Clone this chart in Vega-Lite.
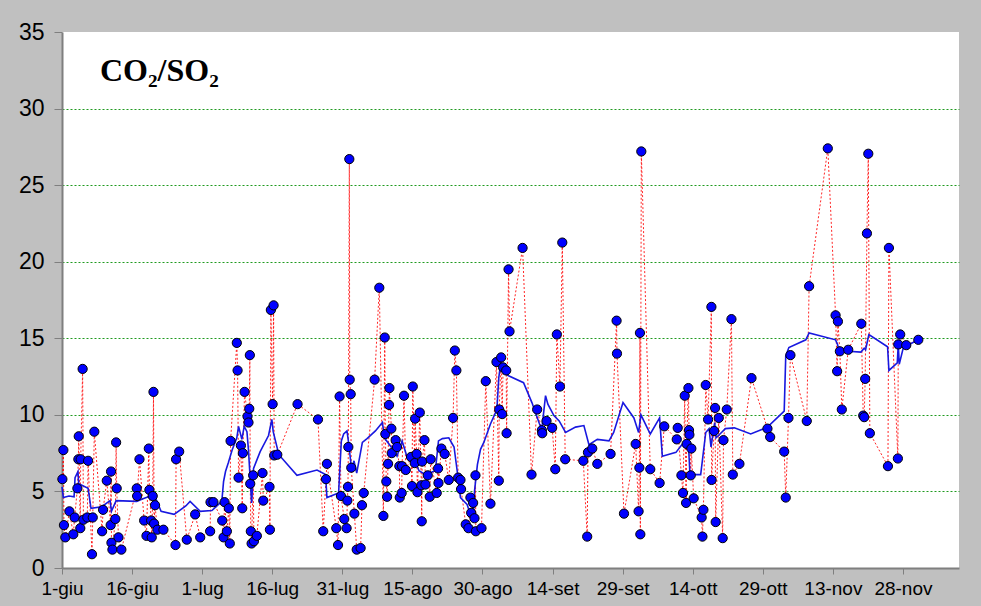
{
  "$schema": "https://vega.github.io/schema/vega-lite/v6.json",
  "width": 897,
  "height": 536,
  "autosize": {"type": "none"},
  "padding": {"left": 62, "top": 32, "right": 22, "bottom": 38},
  "background": "#c0c0c0",
  "title": {"text": "CO₂/SO₂", "anchor": "start", "frame": "group", "orient": "top", "offset": -92, "dx": 38, "baseline": "alphabetic", "font": "Liberation Serif", "fontWeight": "bold", "fontSize": 32, "color": "#000000"},
  "config": {
    "view": {"fill": "#ffffff", "stroke": null},
    "axis": {"labelFont": "Liberation Sans", "labelColor": "#000000", "domainColor": "#7f7f7f", "domainWidth": 2, "tickColor": "#7f7f7f", "tickWidth": 1, "title": null}
  },
  "datasets": {
    "campioni": [
      {"date": "2006-06-01T02:00Z", "value": 5.8},
      {"date": "2006-06-01T07:00Z", "value": 7.7},
      {"date": "2006-06-01T10:00Z", "value": 2.8},
      {"date": "2006-06-01T17:00Z", "value": 2.0},
      {"date": "2006-06-02T14:00Z", "value": 3.7},
      {"date": "2006-06-03T10:00Z", "value": 2.2},
      {"date": "2006-06-03T17:00Z", "value": 3.3},
      {"date": "2006-06-04T07:00Z", "value": 5.2},
      {"date": "2006-06-04T12:00Z", "value": 7.1},
      {"date": "2006-06-04T14:00Z", "value": 8.6},
      {"date": "2006-06-04T22:00Z", "value": 2.6},
      {"date": "2006-06-05T00:00Z", "value": 7.1},
      {"date": "2006-06-05T10:00Z", "value": 13.0},
      {"date": "2006-06-05T14:00Z", "value": 3.15},
      {"date": "2006-06-06T10:00Z", "value": 3.3},
      {"date": "2006-06-06T14:00Z", "value": 7.0},
      {"date": "2006-06-07T10:00Z", "value": 0.9},
      {"date": "2006-06-07T14:00Z", "value": 3.3},
      {"date": "2006-06-07T22:00Z", "value": 8.9},
      {"date": "2006-06-09T14:00Z", "value": 2.4},
      {"date": "2006-06-09T19:00Z", "value": 3.8},
      {"date": "2006-06-10T14:00Z", "value": 5.7},
      {"date": "2006-06-11T10:00Z", "value": 2.8},
      {"date": "2006-06-11T12:00Z", "value": 6.3},
      {"date": "2006-06-11T14:00Z", "value": 1.65},
      {"date": "2006-06-11T19:00Z", "value": 1.2},
      {"date": "2006-06-12T10:00Z", "value": 3.2},
      {"date": "2006-06-12T14:00Z", "value": 8.2},
      {"date": "2006-06-12T17:00Z", "value": 5.2},
      {"date": "2006-06-13T02:00Z", "value": 2.0},
      {"date": "2006-06-13T17:00Z", "value": 1.2},
      {"date": "2006-06-17T00:00Z", "value": 5.2},
      {"date": "2006-06-17T02:00Z", "value": 4.7},
      {"date": "2006-06-17T14:00Z", "value": 7.1},
      {"date": "2006-06-18T14:00Z", "value": 3.1},
      {"date": "2006-06-19T02:00Z", "value": 2.1},
      {"date": "2006-06-19T14:00Z", "value": 7.8},
      {"date": "2006-06-19T17:00Z", "value": 5.1},
      {"date": "2006-06-20T02:00Z", "value": 3.1},
      {"date": "2006-06-20T05:00Z", "value": 2.0},
      {"date": "2006-06-20T10:00Z", "value": 4.7},
      {"date": "2006-06-20T14:00Z", "value": 11.5},
      {"date": "2006-06-20T17:00Z", "value": 2.9},
      {"date": "2006-06-20T22:00Z", "value": 4.1},
      {"date": "2006-06-21T10:00Z", "value": 2.5},
      {"date": "2006-06-22T17:00Z", "value": 2.5},
      {"date": "2006-06-25T07:00Z", "value": 1.5},
      {"date": "2006-06-25T10:00Z", "value": 7.1},
      {"date": "2006-06-26T02:00Z", "value": 7.6},
      {"date": "2006-06-27T17:00Z", "value": 1.85},
      {"date": "2006-06-29T12:00Z", "value": 3.5},
      {"date": "2006-06-30T14:00Z", "value": 2.0},
      {"date": "2006-07-02T17:00Z", "value": 2.4},
      {"date": "2006-07-02T19:00Z", "value": 4.3},
      {"date": "2006-07-03T10:00Z", "value": 4.3},
      {"date": "2006-07-05T07:00Z", "value": 3.1},
      {"date": "2006-07-05T14:00Z", "value": 2.0},
      {"date": "2006-07-05T19:00Z", "value": 4.3},
      {"date": "2006-07-06T07:00Z", "value": 2.4},
      {"date": "2006-07-06T17:00Z", "value": 3.9},
      {"date": "2006-07-06T22:00Z", "value": 1.6},
      {"date": "2006-07-07T02:00Z", "value": 8.3},
      {"date": "2006-07-08T10:00Z", "value": 14.7},
      {"date": "2006-07-08T14:00Z", "value": 12.9},
      {"date": "2006-07-08T19:00Z", "value": 5.9},
      {"date": "2006-07-09T07:00Z", "value": 8.0},
      {"date": "2006-07-09T14:00Z", "value": 3.9},
      {"date": "2006-07-09T17:00Z", "value": 7.5},
      {"date": "2006-07-10T02:00Z", "value": 11.5},
      {"date": "2006-07-10T17:00Z", "value": 9.9},
      {"date": "2006-07-10T22:00Z", "value": 9.5},
      {"date": "2006-07-11T02:00Z", "value": 10.4},
      {"date": "2006-07-11T05:00Z", "value": 13.9},
      {"date": "2006-07-11T07:00Z", "value": 5.5},
      {"date": "2006-07-11T10:00Z", "value": 2.4},
      {"date": "2006-07-11T14:00Z", "value": 1.6},
      {"date": "2006-07-11T22:00Z", "value": 6.05},
      {"date": "2006-07-12T02:00Z", "value": 1.75},
      {"date": "2006-07-12T17:00Z", "value": 2.1},
      {"date": "2006-07-13T22:00Z", "value": 6.2},
      {"date": "2006-07-14T02:00Z", "value": 4.4},
      {"date": "2006-07-15T10:00Z", "value": 5.3},
      {"date": "2006-07-15T12:00Z", "value": 2.5},
      {"date": "2006-07-15T17:00Z", "value": 16.85},
      {"date": "2006-07-16T02:00Z", "value": 10.7},
      {"date": "2006-07-16T07:00Z", "value": 17.15},
      {"date": "2006-07-16T10:00Z", "value": 7.35},
      {"date": "2006-07-17T02:00Z", "value": 7.4},
      {"date": "2006-07-21T10:00Z", "value": 10.7},
      {"date": "2006-07-25T19:00Z", "value": 9.7},
      {"date": "2006-07-26T22:00Z", "value": 2.4},
      {"date": "2006-07-27T12:00Z", "value": 5.8},
      {"date": "2006-07-27T17:00Z", "value": 6.8},
      {"date": "2006-07-29T17:00Z", "value": 2.6},
      {"date": "2006-07-30T02:00Z", "value": 1.5},
      {"date": "2006-07-30T10:00Z", "value": 11.2},
      {"date": "2006-07-30T17:00Z", "value": 4.7},
      {"date": "2006-07-31T10:00Z", "value": 3.2},
      {"date": "2006-07-31T22:00Z", "value": 2.6},
      {"date": "2006-08-01T02:00Z", "value": 4.4},
      {"date": "2006-08-01T05:00Z", "value": 5.3},
      {"date": "2006-08-01T07:00Z", "value": 7.9},
      {"date": "2006-08-01T12:00Z", "value": 26.7},
      {"date": "2006-08-01T14:00Z", "value": 12.3},
      {"date": "2006-08-01T19:00Z", "value": 11.35},
      {"date": "2006-08-01T22:00Z", "value": 6.55},
      {"date": "2006-08-02T14:00Z", "value": 3.55},
      {"date": "2006-08-03T02:00Z", "value": 1.2},
      {"date": "2006-08-03T22:00Z", "value": 1.3},
      {"date": "2006-08-04T05:00Z", "value": 4.1},
      {"date": "2006-08-04T14:00Z", "value": 4.9},
      {"date": "2006-08-06T22:00Z", "value": 12.3},
      {"date": "2006-08-07T22:00Z", "value": 18.3},
      {"date": "2006-08-08T19:00Z", "value": 3.4},
      {"date": "2006-08-09T02:00Z", "value": 15.05},
      {"date": "2006-08-09T05:00Z", "value": 8.75},
      {"date": "2006-08-09T10:00Z", "value": 5.65},
      {"date": "2006-08-09T14:00Z", "value": 4.65},
      {"date": "2006-08-09T19:00Z", "value": 6.8},
      {"date": "2006-08-10T00:00Z", "value": 10.65},
      {"date": "2006-08-10T02:00Z", "value": 11.75},
      {"date": "2006-08-10T12:00Z", "value": 9.1},
      {"date": "2006-08-10T14:00Z", "value": 7.5},
      {"date": "2006-08-11T10:00Z", "value": 8.35},
      {"date": "2006-08-11T17:00Z", "value": 7.9},
      {"date": "2006-08-12T05:00Z", "value": 6.65},
      {"date": "2006-08-12T07:00Z", "value": 4.6},
      {"date": "2006-08-12T17:00Z", "value": 4.9},
      {"date": "2006-08-12T19:00Z", "value": 6.65},
      {"date": "2006-08-13T05:00Z", "value": 11.25},
      {"date": "2006-08-13T14:00Z", "value": 6.4},
      {"date": "2006-08-14T17:00Z", "value": 7.25},
      {"date": "2006-08-14T22:00Z", "value": 5.35},
      {"date": "2006-08-15T02:00Z", "value": 11.85},
      {"date": "2006-08-15T12:00Z", "value": 6.85},
      {"date": "2006-08-15T14:00Z", "value": 9.75},
      {"date": "2006-08-15T22:00Z", "value": 7.45},
      {"date": "2006-08-16T02:00Z", "value": 4.95},
      {"date": "2006-08-16T14:00Z", "value": 10.15},
      {"date": "2006-08-16T22:00Z", "value": 5.4},
      {"date": "2006-08-17T00:00Z", "value": 3.05},
      {"date": "2006-08-17T02:00Z", "value": 6.95},
      {"date": "2006-08-17T14:00Z", "value": 8.35},
      {"date": "2006-08-17T19:00Z", "value": 5.45},
      {"date": "2006-08-18T07:00Z", "value": 6.05},
      {"date": "2006-08-18T17:00Z", "value": 4.65},
      {"date": "2006-08-18T22:00Z", "value": 7.1},
      {"date": "2006-08-20T05:00Z", "value": 4.9},
      {"date": "2006-08-20T12:00Z", "value": 6.5},
      {"date": "2006-08-20T14:00Z", "value": 5.55},
      {"date": "2006-08-21T05:00Z", "value": 7.8},
      {"date": "2006-08-21T22:00Z", "value": 7.45},
      {"date": "2006-08-22T19:00Z", "value": 5.75},
      {"date": "2006-08-23T17:00Z", "value": 9.8},
      {"date": "2006-08-24T02:00Z", "value": 14.2},
      {"date": "2006-08-24T10:00Z", "value": 12.9},
      {"date": "2006-08-24T19:00Z", "value": 5.9},
      {"date": "2006-08-25T07:00Z", "value": 5.75},
      {"date": "2006-08-25T10:00Z", "value": 5.15},
      {"date": "2006-08-26T10:00Z", "value": 2.85},
      {"date": "2006-08-27T00:00Z", "value": 2.6},
      {"date": "2006-08-27T10:00Z", "value": 4.6},
      {"date": "2006-08-27T14:00Z", "value": 3.6},
      {"date": "2006-08-28T00:00Z", "value": 4.25},
      {"date": "2006-08-28T07:00Z", "value": 3.25},
      {"date": "2006-08-28T12:00Z", "value": 6.05},
      {"date": "2006-08-28T14:00Z", "value": 2.4},
      {"date": "2006-08-29T19:00Z", "value": 2.6},
      {"date": "2006-08-30T17:00Z", "value": 12.2},
      {"date": "2006-08-31T17:00Z", "value": 4.2},
      {"date": "2006-09-02T00:00Z", "value": 13.45},
      {"date": "2006-09-02T12:00Z", "value": 5.7},
      {"date": "2006-09-02T14:00Z", "value": 10.35},
      {"date": "2006-09-03T00:00Z", "value": 13.75},
      {"date": "2006-09-03T05:00Z", "value": 10.05},
      {"date": "2006-09-03T10:00Z", "value": 13.1},
      {"date": "2006-09-04T02:00Z", "value": 12.9},
      {"date": "2006-09-04T04:00Z", "value": 8.8},
      {"date": "2006-09-04T14:00Z", "value": 19.5},
      {"date": "2006-09-04T19:00Z", "value": 15.45},
      {"date": "2006-09-07T14:00Z", "value": 20.9},
      {"date": "2006-09-09T12:00Z", "value": 6.1},
      {"date": "2006-09-10T17:00Z", "value": 10.35},
      {"date": "2006-09-11T17:00Z", "value": 9.0},
      {"date": "2006-09-11T19:00Z", "value": 8.8},
      {"date": "2006-09-12T17:00Z", "value": 9.6},
      {"date": "2006-09-13T22:00Z", "value": 9.15},
      {"date": "2006-09-14T14:00Z", "value": 6.45},
      {"date": "2006-09-14T22:00Z", "value": 15.25},
      {"date": "2006-09-15T14:00Z", "value": 11.85},
      {"date": "2006-09-16T02:00Z", "value": 21.25},
      {"date": "2006-09-16T17:00Z", "value": 7.1},
      {"date": "2006-09-20T14:00Z", "value": 7.0},
      {"date": "2006-09-21T10:00Z", "value": 2.05},
      {"date": "2006-09-21T14:00Z", "value": 7.55},
      {"date": "2006-09-22T12:00Z", "value": 7.8},
      {"date": "2006-09-23T14:00Z", "value": 6.8},
      {"date": "2006-09-26T10:00Z", "value": 7.45},
      {"date": "2006-09-27T17:00Z", "value": 16.15},
      {"date": "2006-09-27T19:00Z", "value": 14.0},
      {"date": "2006-09-29T07:00Z", "value": 3.55},
      {"date": "2006-10-01T19:00Z", "value": 8.1},
      {"date": "2006-10-02T10:00Z", "value": 3.7},
      {"date": "2006-10-02T14:00Z", "value": 6.55},
      {"date": "2006-10-02T17:00Z", "value": 15.35},
      {"date": "2006-10-02T19:00Z", "value": 2.2},
      {"date": "2006-10-03T00:00Z", "value": 27.2},
      {"date": "2006-10-04T22:00Z", "value": 6.45},
      {"date": "2006-10-06T22:00Z", "value": 5.55},
      {"date": "2006-10-07T22:00Z", "value": 9.25},
      {"date": "2006-10-10T14:00Z", "value": 8.4},
      {"date": "2006-10-10T19:00Z", "value": 9.15},
      {"date": "2006-10-11T14:00Z", "value": 6.05},
      {"date": "2006-10-11T22:00Z", "value": 4.9},
      {"date": "2006-10-12T07:00Z", "value": 11.25},
      {"date": "2006-10-12T14:00Z", "value": 4.25},
      {"date": "2006-10-12T17:00Z", "value": 8.1},
      {"date": "2006-10-13T02:00Z", "value": 11.75},
      {"date": "2006-10-13T05:00Z", "value": 9.0},
      {"date": "2006-10-13T07:00Z", "value": 8.7},
      {"date": "2006-10-13T14:00Z", "value": 6.05},
      {"date": "2006-10-13T17:00Z", "value": 7.8},
      {"date": "2006-10-14T05:00Z", "value": 4.55},
      {"date": "2006-10-15T22:00Z", "value": 3.3},
      {"date": "2006-10-16T02:00Z", "value": 2.05},
      {"date": "2006-10-16T07:00Z", "value": 3.8},
      {"date": "2006-10-16T19:00Z", "value": 11.95},
      {"date": "2006-10-17T07:00Z", "value": 9.7},
      {"date": "2006-10-18T00:00Z", "value": 17.05},
      {"date": "2006-10-18T01:00Z", "value": 5.75},
      {"date": "2006-10-18T14:00Z", "value": 8.95},
      {"date": "2006-10-18T19:00Z", "value": 10.45},
      {"date": "2006-10-18T22:00Z", "value": 3.0},
      {"date": "2006-10-19T14:00Z", "value": 9.8},
      {"date": "2006-10-20T10:00Z", "value": 1.95},
      {"date": "2006-10-20T14:00Z", "value": 8.35},
      {"date": "2006-10-21T07:00Z", "value": 10.35},
      {"date": "2006-10-22T07:00Z", "value": 16.25},
      {"date": "2006-10-22T14:00Z", "value": 6.1},
      {"date": "2006-10-24T00:00Z", "value": 6.8},
      {"date": "2006-10-26T14:00Z", "value": 12.4},
      {"date": "2006-10-30T00:00Z", "value": 9.1},
      {"date": "2006-10-30T14:00Z", "value": 8.55},
      {"date": "2006-11-02T14:00Z", "value": 7.6},
      {"date": "2006-11-02T22:00Z", "value": 4.6},
      {"date": "2006-11-03T12:00Z", "value": 9.8},
      {"date": "2006-11-03T22:00Z", "value": 13.9},
      {"date": "2006-11-07T10:00Z", "value": 9.6},
      {"date": "2006-11-07T22:00Z", "value": 18.4},
      {"date": "2006-11-11T22:00Z", "value": 27.4},
      {"date": "2006-11-13T14:00Z", "value": 16.5},
      {"date": "2006-11-13T22:00Z", "value": 12.85},
      {"date": "2006-11-14T02:00Z", "value": 16.1},
      {"date": "2006-11-14T12:00Z", "value": 14.15},
      {"date": "2006-11-14T22:00Z", "value": 10.35},
      {"date": "2006-11-16T07:00Z", "value": 14.25},
      {"date": "2006-11-19T02:00Z", "value": 15.95},
      {"date": "2006-11-19T12:00Z", "value": 9.95},
      {"date": "2006-11-19T17:00Z", "value": 9.85},
      {"date": "2006-11-19T22:00Z", "value": 12.35},
      {"date": "2006-11-20T07:00Z", "value": 21.85},
      {"date": "2006-11-20T14:00Z", "value": 27.05},
      {"date": "2006-11-20T22:00Z", "value": 8.8},
      {"date": "2006-11-24T19:00Z", "value": 6.65},
      {"date": "2006-11-25T00:00Z", "value": 20.9},
      {"date": "2006-11-26T22:00Z", "value": 7.15},
      {"date": "2006-11-27T00:00Z", "value": 14.6},
      {"date": "2006-11-27T10:00Z", "value": 15.25},
      {"date": "2006-11-28T17:00Z", "value": 14.55},
      {"date": "2006-12-01T07:00Z", "value": 14.9}
    ],
    "media": [
      {"date": "2006-06-01T00:00Z", "value": 5.3},
      {"date": "2006-06-01T07:00Z", "value": 4.6},
      {"date": "2006-06-02T12:00Z", "value": 4.7},
      {"date": "2006-06-03T14:00Z", "value": 4.65},
      {"date": "2006-06-03T19:00Z", "value": 5.9},
      {"date": "2006-06-04T10:00Z", "value": 6.3},
      {"date": "2006-06-04T14:00Z", "value": 5.5},
      {"date": "2006-06-06T14:00Z", "value": 5.2},
      {"date": "2006-06-07T05:00Z", "value": 3.9},
      {"date": "2006-06-09T12:00Z", "value": 4.0},
      {"date": "2006-06-11T07:00Z", "value": 4.4},
      {"date": "2006-06-11T14:00Z", "value": 3.7},
      {"date": "2006-06-12T14:00Z", "value": 4.4},
      {"date": "2006-06-17T00:00Z", "value": 4.35},
      {"date": "2006-06-18T05:00Z", "value": 4.5},
      {"date": "2006-06-20T17:00Z", "value": 4.8},
      {"date": "2006-06-22T05:00Z", "value": 3.7},
      {"date": "2006-06-25T00:00Z", "value": 3.5},
      {"date": "2006-06-27T12:00Z", "value": 4.05},
      {"date": "2006-06-28T10:00Z", "value": 4.35},
      {"date": "2006-06-30T14:00Z", "value": 3.7},
      {"date": "2006-07-03T02:00Z", "value": 3.75},
      {"date": "2006-07-05T05:00Z", "value": 4.35},
      {"date": "2006-07-05T14:00Z", "value": 5.65},
      {"date": "2006-07-06T00:00Z", "value": 6.3},
      {"date": "2006-07-06T14:00Z", "value": 6.85},
      {"date": "2006-07-07T10:00Z", "value": 7.7},
      {"date": "2006-07-08T10:00Z", "value": 8.5},
      {"date": "2006-07-08T19:00Z", "value": 9.25},
      {"date": "2006-07-09T12:00Z", "value": 8.4},
      {"date": "2006-07-10T00:00Z", "value": 9.25},
      {"date": "2006-07-10T14:00Z", "value": 8.9},
      {"date": "2006-07-10T22:00Z", "value": 7.7},
      {"date": "2006-07-11T14:00Z", "value": 4.25},
      {"date": "2006-07-12T00:00Z", "value": 6.5},
      {"date": "2006-07-13T10:00Z", "value": 7.6},
      {"date": "2006-07-15T05:00Z", "value": 8.65},
      {"date": "2006-07-15T22:00Z", "value": 9.7},
      {"date": "2006-07-16T05:00Z", "value": 8.9},
      {"date": "2006-07-17T10:00Z", "value": 7.4},
      {"date": "2006-07-21T07:00Z", "value": 6.05},
      {"date": "2006-07-25T14:00Z", "value": 6.4},
      {"date": "2006-07-27T10:00Z", "value": 6.1},
      {"date": "2006-07-27T17:00Z", "value": 4.6},
      {"date": "2006-07-30T05:00Z", "value": 4.9},
      {"date": "2006-07-30T19:00Z", "value": 8.3},
      {"date": "2006-07-31T07:00Z", "value": 8.75},
      {"date": "2006-08-01T00:00Z", "value": 8.95},
      {"date": "2006-08-01T07:00Z", "value": 8.3},
      {"date": "2006-08-01T17:00Z", "value": 7.2},
      {"date": "2006-08-02T00:00Z", "value": 6.35},
      {"date": "2006-08-02T12:00Z", "value": 7.0},
      {"date": "2006-08-03T02:00Z", "value": 6.2},
      {"date": "2006-08-04T07:00Z", "value": 8.2},
      {"date": "2006-08-05T07:00Z", "value": 8.45},
      {"date": "2006-08-07T02:00Z", "value": 8.95},
      {"date": "2006-08-08T14:00Z", "value": 9.5},
      {"date": "2006-08-09T00:00Z", "value": 8.5},
      {"date": "2006-08-10T14:00Z", "value": 7.85},
      {"date": "2006-08-11T17:00Z", "value": 7.3},
      {"date": "2006-08-12T19:00Z", "value": 8.3},
      {"date": "2006-08-13T22:00Z", "value": 7.2},
      {"date": "2006-08-14T22:00Z", "value": 7.5},
      {"date": "2006-08-16T10:00Z", "value": 6.35},
      {"date": "2006-08-17T19:00Z", "value": 6.1},
      {"date": "2006-08-19T22:00Z", "value": 6.35},
      {"date": "2006-08-20T14:00Z", "value": 8.3},
      {"date": "2006-08-21T10:00Z", "value": 8.45},
      {"date": "2006-08-22T19:00Z", "value": 8.5},
      {"date": "2006-08-23T22:00Z", "value": 7.9},
      {"date": "2006-08-24T14:00Z", "value": 6.35},
      {"date": "2006-08-25T07:00Z", "value": 4.6},
      {"date": "2006-08-26T17:00Z", "value": 4.15},
      {"date": "2006-08-27T10:00Z", "value": 3.5},
      {"date": "2006-08-28T00:00Z", "value": 3.05},
      {"date": "2006-08-28T07:00Z", "value": 5.0},
      {"date": "2006-08-28T22:00Z", "value": 6.75},
      {"date": "2006-08-29T14:00Z", "value": 7.75},
      {"date": "2006-08-30T07:00Z", "value": 8.2},
      {"date": "2006-08-31T17:00Z", "value": 9.4},
      {"date": "2006-09-02T02:00Z", "value": 10.35},
      {"date": "2006-09-02T12:00Z", "value": 12.45},
      {"date": "2006-09-02T22:00Z", "value": 13.4},
      {"date": "2006-09-03T12:00Z", "value": 12.8},
      {"date": "2006-09-04T14:00Z", "value": 12.55},
      {"date": "2006-09-07T19:00Z", "value": 12.1},
      {"date": "2006-09-09T14:00Z", "value": 10.8},
      {"date": "2006-09-11T05:00Z", "value": 9.4},
      {"date": "2006-09-11T17:00Z", "value": 9.1},
      {"date": "2006-09-12T12:00Z", "value": 11.25},
      {"date": "2006-09-13T00:00Z", "value": 10.7},
      {"date": "2006-09-14T07:00Z", "value": 9.95},
      {"date": "2006-09-15T10:00Z", "value": 9.6},
      {"date": "2006-09-16T19:00Z", "value": 8.85},
      {"date": "2006-09-18T22:00Z", "value": 9.2},
      {"date": "2006-09-20T17:00Z", "value": 9.3},
      {"date": "2006-09-21T19:00Z", "value": 8.05},
      {"date": "2006-09-23T14:00Z", "value": 8.4},
      {"date": "2006-09-26T02:00Z", "value": 8.3},
      {"date": "2006-09-27T02:00Z", "value": 8.85},
      {"date": "2006-09-29T02:00Z", "value": 10.8},
      {"date": "2006-10-01T10:00Z", "value": 9.8},
      {"date": "2006-10-02T10:00Z", "value": 8.85},
      {"date": "2006-10-02T22:00Z", "value": 10.0},
      {"date": "2006-10-04T22:00Z", "value": 8.75},
      {"date": "2006-10-06T22:00Z", "value": 9.8},
      {"date": "2006-10-07T12:00Z", "value": 7.3},
      {"date": "2006-10-10T10:00Z", "value": 7.55},
      {"date": "2006-10-11T19:00Z", "value": 8.1},
      {"date": "2006-10-13T02:00Z", "value": 8.1},
      {"date": "2006-10-13T10:00Z", "value": 6.1},
      {"date": "2006-10-15T17:00Z", "value": 6.1},
      {"date": "2006-10-16T19:00Z", "value": 8.85},
      {"date": "2006-10-17T12:00Z", "value": 9.1},
      {"date": "2006-10-17T22:00Z", "value": 7.9},
      {"date": "2006-10-18T17:00Z", "value": 9.5},
      {"date": "2006-10-19T00:00Z", "value": 8.5},
      {"date": "2006-10-20T00:00Z", "value": 8.8},
      {"date": "2006-10-21T00:00Z", "value": 9.1},
      {"date": "2006-10-22T22:00Z", "value": 9.15},
      {"date": "2006-10-26T10:00Z", "value": 8.75},
      {"date": "2006-10-30T00:00Z", "value": 9.2},
      {"date": "2006-11-02T14:00Z", "value": 10.25},
      {"date": "2006-11-02T22:00Z", "value": 13.85},
      {"date": "2006-11-03T14:00Z", "value": 14.4},
      {"date": "2006-11-07T05:00Z", "value": 14.9},
      {"date": "2006-11-07T22:00Z", "value": 15.35},
      {"date": "2006-11-13T14:00Z", "value": 14.9},
      {"date": "2006-11-14T00:00Z", "value": 14.6},
      {"date": "2006-11-14T07:00Z", "value": 14.2},
      {"date": "2006-11-16T07:00Z", "value": 14.15},
      {"date": "2006-11-19T00:00Z", "value": 14.1},
      {"date": "2006-11-19T17:00Z", "value": 14.35},
      {"date": "2006-11-20T00:00Z", "value": 14.25},
      {"date": "2006-11-20T17:00Z", "value": 15.25},
      {"date": "2006-11-24T17:00Z", "value": 14.45},
      {"date": "2006-11-25T00:00Z", "value": 12.9},
      {"date": "2006-11-26T19:00Z", "value": 13.4},
      {"date": "2006-11-27T00:00Z", "value": 14.6},
      {"date": "2006-11-27T05:00Z", "value": 13.3},
      {"date": "2006-11-28T02:00Z", "value": 14.4},
      {"date": "2006-12-01T07:00Z", "value": 14.9}
    ]
  },
  "encoding": {
    "x": {
      "field": "date",
      "type": "temporal",
      "scale": {"type": "utc", "domain": [{"year": 2006, "month": 6, "date": 1, "utc": true}, {"year": 2006, "month": 12, "date": 10, "utc": true}]},
      "axis": {
        "values": [
          {"year": 2006, "month": 6, "date": 1, "utc": true},
          {"year": 2006, "month": 6, "date": 16, "utc": true},
          {"year": 2006, "month": 7, "date": 1, "utc": true},
          {"year": 2006, "month": 7, "date": 16, "utc": true},
          {"year": 2006, "month": 7, "date": 31, "utc": true},
          {"year": 2006, "month": 8, "date": 15, "utc": true},
          {"year": 2006, "month": 8, "date": 30, "utc": true},
          {"year": 2006, "month": 9, "date": 14, "utc": true},
          {"year": 2006, "month": 9, "date": 29, "utc": true},
          {"year": 2006, "month": 10, "date": 14, "utc": true},
          {"year": 2006, "month": 10, "date": 29, "utc": true},
          {"year": 2006, "month": 11, "date": 13, "utc": true},
          {"year": 2006, "month": 11, "date": 28, "utc": true}
        ],
        "labelExpr": "utcdate(datum.value) + '-' + ['gen','feb','mar','apr','mag','giu','lug','ago','set','ott','nov','dic'][utcmonth(datum.value)]",
        "labelFontSize": 19,
        "labelPadding": 5,
        "tickSize": 6,
        "grid": false,
        "labelOverlap": false,
        "labelFlush": false
      }
    },
    "y": {
      "field": "value",
      "type": "quantitative",
      "scale": {"domain": [0, 35], "nice": false, "zero": true},
      "axis": {
        "values": [0, 5, 10, 15, 20, 25, 30, 35],
        "labelFontSize": 23,
        "labelPadding": 10,
        "tickSize": 8,
        "grid": true,
        "gridColor": "#1f9a1f",
        "gridDash": [2, 2],
        "gridWidth": 1,
        "gridOpacity": {"condition": {"test": "datum.value >= 35 || datum.value <= 0", "value": 0}, "value": 1},
        "labelFlush": false
      }
    }
  },
  "layer": [
    {
      "data": {"name": "campioni"},
      "mark": {"type": "line", "color": "#ff0000", "strokeWidth": 1, "strokeDash": [2, 2], "opacity": 0.85}
    },
    {
      "data": {"name": "media"},
      "mark": {"type": "line", "color": "#1818e0", "strokeWidth": 1.6}
    },
    {
      "data": {"name": "campioni"},
      "mark": {"type": "point", "shape": "circle", "filled": true, "size": 85, "fill": "#0000ff", "stroke": "#000000", "strokeWidth": 1, "opacity": 1}
    }
  ]
}
